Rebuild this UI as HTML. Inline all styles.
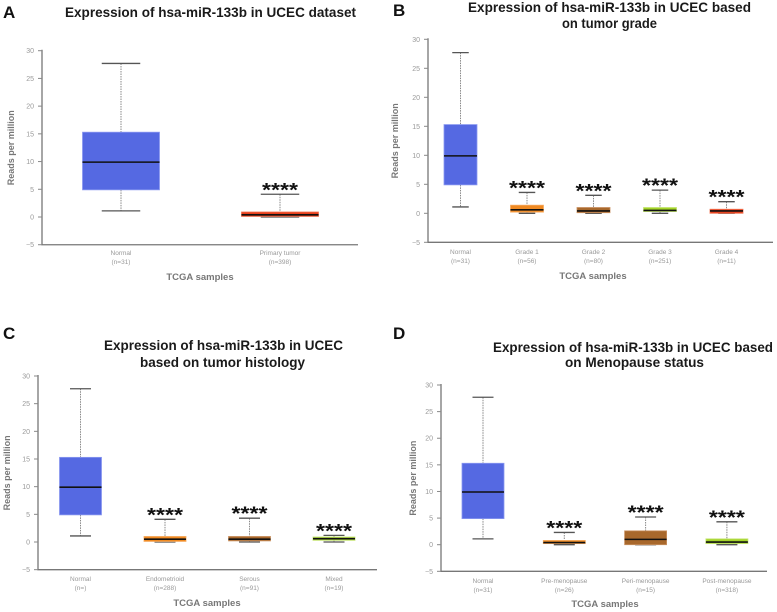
<!DOCTYPE html>
<html><head><meta charset="utf-8"><style>
html,body{margin:0;padding:0;background:#fff;}
svg{display:block;font-family:"Liberation Sans",Arial,sans-serif;}
</style></head><body>
<svg id="fig" width="777" height="612" viewBox="0 0 777 612" xmlns="http://www.w3.org/2000/svg"></svg>
<script>
// ---- Data (whisker-high, q3, median, q1, whisker-low) ----
const aCategories = ["Normal", "Primary tumor"];
const aCounts = ["(n=31)", "(n=398)"];
const aWhiskerHigh = [27.7, 4.1];
const aQ3 = [15.3, 0.9];
const aMedian = [9.9, 0.4];
const aQ1 = [4.9, 0.1];
const aWhiskerLow = [1.1, 0];
const aStars = ["", "****"];

const bCategories = ["Normal", "Grade 1", "Grade 2", "Grade 3", "Grade 4"];
const bCounts = ["(n=31)", "(n=56)", "(n=80)", "(n=251)", "(n=11)"];
const bWhiskerHigh = [27.7, 3.6, 3.1, 4.0, 2.0];
const bQ3 = [15.3, 1.4, 1.0, 1.0, 0.7];
const bMedian = [9.9, 0.6, 0.4, 0.5, 0.4];
const bQ1 = [4.9, 0.2, 0.1, 0.3, 0.0];
const bWhiskerLow = [1.1, 0, 0, 0, 0];
const bStars = ["", "****", "****", "****", "****"];

const cCategories = ["Normal", "Endometrioid", "Serous", "Mixed"];
const cCounts = ["(n=)", "(n=288)", "(n=91)", "(n=19)"];
const cWhiskerHigh = [27.7, 4.1, 4.3, 1.2];
const cQ3 = [15.3, 1.0, 1.0, 0.9];
const cMedian = [9.9, 0.5, 0.5, 0.6];
const cQ1 = [4.9, 0.1, 0.2, 0.3];
const cWhiskerLow = [1.1, 0, 0, 0];
const cStars = ["", "****", "****", "****"];

const dCategories = ["Normal", "Pre-menopause", "Peri-menopause", "Post-menopause"];
const dCounts = ["(n=31)", "(n=26)", "(n=15)", "(n=318)"];
const dWhiskerHigh = [27.7, 2.3, 5.2, 4.3];
const dQ3 = [15.3, 0.8, 2.6, 1.1];
const dMedian = [9.9, 0.4, 1.0, 0.5];
const dQ1 = [4.9, 0.2, 0, 0.2];
const dWhiskerLow = [1.1, 0, 0, 0];
const dStars = ["", "****", "****", "****"];

const yTicks = [-5, 0, 5, 10, 15, 20, 25, 30];

const svg = document.getElementById('fig');
const NS = 'http://www.w3.org/2000/svg';
function mk(tag, attrs, parent) {
  const e = document.createElementNS(NS, tag);
  for (const k in attrs) e.setAttribute(k, attrs[k]);
  (parent || svg).appendChild(e);
  return e;
}

function panel(p) {
  const g = mk('g', {});
  
  
  const yScale = v => p.y0 + (p.y30 - p.y0) * v / 30;
  const n = p.cats.length;
  const xScale = i => p.xFirst + i * p.step;

  const lt = mk('text', {x: p.lx, y: p.ly, 'font-size': 17, 'font-weight': 'bold', fill: '#111'}, g);
  lt.textContent = p.letter;
  
  

  p.title.forEach((t, k) => {
    const tt = mk('text', {x: p.tx[k], y: p.ty[k], 'font-size': 14, 'font-weight': 'bold', fill: '#1a1a1a', textLength: p.tw[k], lengthAdjust: 'spacingAndGlyphs'}, g);
    tt.textContent = t;
    
    
  });

  const ax = mk('path', {d: `M${p.ax} ${yScale(30)-1} V${yScale(-5)} H${p.axEnd}`, stroke: '#777', 'stroke-width': 1.3, fill: 'none'}, g);
  
  
  yTicks.forEach(v => {
    const y = yScale(v);
    mk('line', {x1: p.ax - 4, x2: p.ax, y1: y, y2: y, stroke: '#888', 'stroke-width': 1}, g);
    const tl = mk('text', {x: p.ax - 8, y: y + 2.5, 'font-size': 7, fill: '#999', 'text-anchor': 'end'}, g);
    tl.textContent = v === -5 ? '\u22125' : String(v);
    
    
  });
  const yl = mk('text', {x: 0, y: 0, 'font-size': 9, 'font-weight': 'bold', fill: '#777', 'text-anchor': 'middle', transform: `translate(${p.ylx},${(yScale(30)+yScale(-5))/2}) rotate(-90)`}, g);
  yl.textContent = 'Reads per million';
  
  
  const xl = mk('text', {x: p.xlx, y: p.xly, 'font-size': 9.5, 'font-weight': 'bold', fill: '#777', 'text-anchor': 'middle'}, g);
  xl.textContent = 'TCGA samples';
  
  

  for (let i = 0; i < n; i++) {
    const cx = xScale(i), hw = p.bw / 2;
    const bg = mk('g', {}, g);
    
    
    mk('line', {x1: cx, x2: cx, y1: yScale(p.wh[i]), y2: yScale(p.q3[i]), stroke: '#888', 'stroke-width': 1, 'stroke-dasharray': '1.5,1'}, bg);
    mk('line', {x1: cx, x2: cx, y1: yScale(p.q1[i]), y2: yScale(p.wl[i]), stroke: '#888', 'stroke-width': 1, 'stroke-dasharray': '1.5,1'}, bg);
    mk('line', {x1: cx - hw/2, x2: cx + hw/2, y1: yScale(p.wh[i]), y2: yScale(p.wh[i]), stroke: '#555', 'stroke-width': 1.3}, bg);
    mk('line', {x1: cx - hw/2, x2: cx + hw/2, y1: yScale(p.wl[i]), y2: yScale(p.wl[i]), stroke: '#555', 'stroke-width': 1.3}, bg);
    const top = yScale(p.q3[i]), bot = yScale(p.q1[i]);
    mk('rect', {x: cx - hw, y: top, width: p.bw, height: Math.max(bot - top, 1.5), fill: p.colors[i], stroke: p.strokes[i], 'stroke-width': 0.8}, bg);
    mk('line', {x1: cx - hw, x2: cx + hw, y1: yScale(p.med[i]), y2: yScale(p.med[i]), stroke: '#111', 'stroke-width': 1.6}, bg);
    if (p.stars[i]) {
      const st = mk('text', {x: cx, y: yScale(p.wh[i]) + 2, 'font-size': 19, 'font-weight': 'bold', fill: '#111', 'text-anchor': 'middle', textLength: 36, lengthAdjust: 'spacingAndGlyphs'}, g);
      st.textContent = p.stars[i];
      
      
    }
    const c1 = mk('text', {x: cx, y: p.cy, 'font-size': 6.5, fill: '#999', 'text-anchor': 'middle'}, g);
    c1.textContent = p.cats[i];
    
    
    const c2 = mk('text', {x: cx, y: p.cy + 9, 'font-size': 6.5, fill: '#999', 'text-anchor': 'middle'}, g);
    c2.textContent = p.counts[i];
    
    
  }
}

const BLUE = '#5569e2', BLUEs = '#8a98f0';
const OR = '#f08a22', BR = '#a8682c', GR = '#a4d42a', RD = '#e8401c';

panel({letter: 'A', lx: 3, ly: 18, title: ['Expression of hsa-miR-133b in UCEC dataset'], tx: [65], ty: [17], tw: [291],
  y0: 217, y30: 50.7, ax: 42, axEnd: 358, xFirst: 121, step: 159, bw: 77,
  ylx: 14, xlx: 200, xly: 280, cy: 255,
  cats: aCategories, counts: aCounts, wh: aWhiskerHigh, q3: aQ3, med: aMedian, q1: aQ1, wl: aWhiskerLow, stars: aStars,
  colors: [BLUE, RD], strokes: [BLUEs, '#f07050']});

panel({letter: 'B', lx: 393, ly: 16, title: ['Expression of hsa-miR-133b in UCEC based', 'on tumor grade'], tx: [468, 562], ty: [12, 28], tw: [283, 95],
  y0: 213.3, y30: 39.3, ax: 428, axEnd: 773, xFirst: 460.5, step: 66.5, bw: 33,
  ylx: 398, xlx: 593, xly: 279, cy: 254,
  cats: bCategories, counts: bCounts, wh: bWhiskerHigh, q3: bQ3, med: bMedian, q1: bQ1, wl: bWhiskerLow, stars: bStars,
  colors: [BLUE, OR, BR, GR, RD], strokes: [BLUEs, '#f5aa60', '#c89060', '#c4e470', '#f07050']});

panel({letter: 'C', lx: 3, ly: 339, title: ['Expression of hsa-miR-133b in UCEC', 'based on tumor histology'], tx: [104, 140], ty: [350, 367], tw: [239, 165],
  y0: 542, y30: 376, ax: 38, axEnd: 377, xFirst: 80.5, step: 84.5, bw: 42,
  ylx: 10, xlx: 207, xly: 606, cy: 581,
  cats: cCategories, counts: cCounts, wh: cWhiskerHigh, q3: cQ3, med: cMedian, q1: cQ1, wl: cWhiskerLow, stars: cStars,
  colors: [BLUE, OR, BR, GR], strokes: [BLUEs, '#f5aa60', '#c89060', '#c4e470']});

panel({letter: 'D', lx: 393, ly: 339, title: ['Expression of hsa-miR-133b in UCEC based', 'on Menopause status'], tx: [493, 565], ty: [352, 367], tw: [280, 139],
  y0: 544.7, y30: 385, ax: 441, axEnd: 767, xFirst: 483, step: 81.3, bw: 42,
  ylx: 416, xlx: 605, xly: 607, cy: 583,
  cats: dCategories, counts: dCounts, wh: dWhiskerHigh, q3: dQ3, med: dMedian, q1: dQ1, wl: dWhiskerLow, stars: dStars,
  colors: [BLUE, OR, BR, GR], strokes: [BLUEs, '#f5aa60', '#c89060', '#c4e470']});
</script>
</body></html>
